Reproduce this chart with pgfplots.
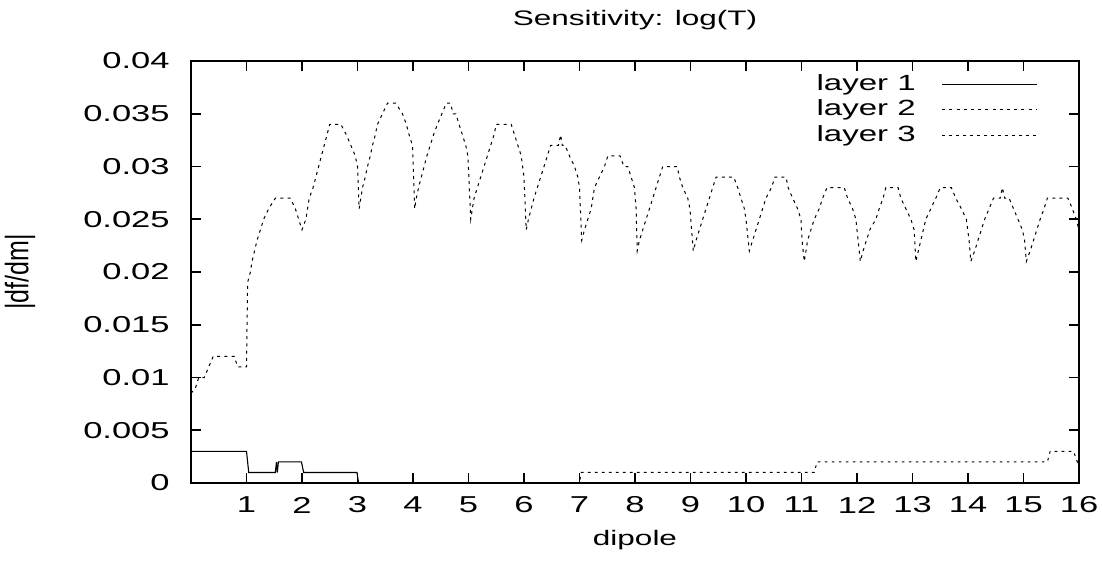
\documentclass[border=0pt]{standalone}
\usepackage{pgfplots}
\pgfplotsset{compat=1.18}
\usepackage{fontspec}
\setmainfont[FakeStretch=1.5]{Liberation Sans}
\begin{document}
\begin{tikzpicture}
\useasboundingbox (0,0) rectangle (551.5bp,281.5bp);
\begin{axis}[
  at={(95.5bp,40bp)}, anchor=south west, scale only axis,
  width=444bp, height=211bp,
  xmin=0, xmax=16, ymin=0, ymax=0.04,
  clip=false,
  xtick={1,2,3,4,5,6,7,8,9,10,11,12,13,14,15,16},
  ytick={0,0.005,0.01,0.015,0.02,0.025,0.03,0.035,0.04},
  yticklabels={0,0.005,0.01,0.015,0.02,0.025,0.03,0.035,0.04},
  scaled y ticks=false,
  tick align=inside, major tick length=5bp,
  axis line style={line width=1bp},
  every tick/.style={black, line width=0.8bp},
  /pgf/number format/assume math mode=true,
  tick label style={font=\fontsize{11.5bp}{13bp}\selectfont, inner sep=0pt},
  xticklabel style={anchor=center, yshift=-11bp},
  yticklabel style={anchor=east, xshift=-10.5bp},
  legend plot pos=right,
  legend image code/.code={\draw[#1] (0bp,0bp) -- (47.5bp,0bp);},
  legend style={draw=none, fill=none, at={(0.954,0.974)}, anchor=north east,
    font=\fontsize{11bp}{12bp}\selectfont, inner sep=0pt, row sep=0.8bp, column sep=12bp,
    nodes={inner sep=1bp, text height=8bp, text depth=2bp}},
  legend cell align=right,
]
\addplot[black, line width=0.55bp, solid] table {
x y
0.00 0.003
1.00 0.003
1.04 0.001
1.52 0.001
1.54 0.002
1.555 0.001
1.575 0.002
1.99 0.002
2.03 0.001
2.99 0.001
3.02 0
16 0
};
\addlegendentry{layer 1}
\addplot[black, line width=0.5bp, dash pattern=on 1.5bp off 2.1bp] table {
x y
0.00 0.0085
0.08 0.009
0.14 0.010
0.24 0.010
0.32 0.011
0.40 0.012
0.78 0.012
0.84 0.011
1.00 0.011
1.02 0.019
1.07 0.020
1.10 0.021
1.19 0.023
1.25 0.024
1.31 0.025
1.40 0.026
1.52 0.027
1.79 0.027
1.88 0.026
1.94 0.025
2.00 0.024
2.07 0.025
2.13 0.027
2.20 0.028
2.30 0.030
2.40 0.032
2.50 0.034
2.70 0.034
2.80 0.033
2.88 0.032
2.96 0.031
3.00 0.030
3.03 0.026
3.06 0.027
3.09 0.028
3.14 0.029
3.18 0.030
3.23 0.031
3.27 0.032
3.32 0.033
3.36 0.034
3.45 0.035
3.54 0.036
3.69 0.036
3.81 0.035
3.88 0.034
3.93 0.033
3.99 0.032
4.03 0.026
4.06 0.027
4.10 0.028
4.15 0.029
4.20 0.030
4.25 0.031
4.31 0.032
4.37 0.033
4.44 0.034
4.52 0.035
4.60 0.036
4.68 0.036
4.72 0.035
4.77 0.035
4.83 0.034
4.89 0.033
4.95 0.032
4.99 0.031
5.04 0.025
5.10 0.027
5.16 0.028
5.22 0.029
5.28 0.030
5.34 0.031
5.40 0.032
5.46 0.033
5.50 0.034
5.77 0.034
5.83 0.033
5.89 0.032
5.95 0.031
6.00 0.029
6.04 0.024
6.08 0.025
6.13 0.026
6.18 0.027
6.24 0.028
6.30 0.029
6.36 0.030
6.42 0.031
6.48 0.032
6.62 0.032
6.66 0.033
6.69 0.032
6.74 0.032
6.82 0.031
6.91 0.030
6.97 0.029
7.00 0.028
7.04 0.023
7.09 0.024
7.15 0.025
7.21 0.026
7.27 0.028
7.36 0.029
7.45 0.030
7.51 0.031
7.73 0.031
7.80 0.030
7.87 0.030
7.93 0.029
7.99 0.028
8.02 0.026
8.04 0.022
8.08 0.023
8.14 0.024
8.20 0.025
8.26 0.026
8.32 0.027
8.38 0.028
8.44 0.029
8.50 0.030
8.76 0.030
8.80 0.029
8.86 0.028
8.95 0.027
8.99 0.026
9.02 0.024
9.05 0.022
9.10 0.023
9.16 0.024
9.22 0.025
9.28 0.026
9.34 0.027
9.40 0.028
9.46 0.029
9.78 0.029
9.85 0.028
9.91 0.027
9.97 0.026
10.00 0.025
10.06 0.022
10.12 0.023
10.18 0.024
10.24 0.025
10.30 0.026
10.36 0.027
10.46 0.028
10.52 0.029
10.72 0.029
10.76 0.028
10.84 0.027
10.93 0.026
10.99 0.025
11.01 0.023
11.05 0.021
11.11 0.023
11.17 0.024
11.23 0.025
11.32 0.026
11.38 0.027
11.46 0.028
11.77 0.028
11.83 0.027
11.92 0.026
11.98 0.025
12.02 0.023
12.06 0.021
12.11 0.022
12.17 0.023
12.23 0.024
12.34 0.025
12.40 0.026
12.47 0.027
12.52 0.028
12.74 0.028
12.79 0.027
12.88 0.026
12.97 0.025
13.03 0.024
13.06 0.021
13.15 0.023
13.24 0.025
13.33 0.026
13.42 0.027
13.50 0.028
13.70 0.028
13.78 0.027
13.88 0.026
13.97 0.025
14.02 0.023
14.05 0.021
14.12 0.022
14.18 0.023
14.24 0.024
14.30 0.025
14.38 0.026
14.46 0.027
14.58 0.027
14.62 0.028
14.66 0.027
14.74 0.027
14.82 0.026
14.90 0.025
14.98 0.024
15.02 0.023
15.05 0.021
15.12 0.022
15.18 0.023
15.24 0.024
15.30 0.025
15.37 0.026
15.43 0.027
15.80 0.027
15.88 0.026
15.95 0.025
16.00 0.024
};
\addlegendentry{layer 2}
\addplot[black, line width=0.5bp, dash pattern=on 1.3bp off 2.2bp] table {
x y
0.00 0
7.00 0
7.03 0.001
11.23 0.001
11.28 0.002
15.43 0.002
15.48 0.003
15.90 0.003
15.97 0.002
16.00 0.0025
};
\addlegendentry{layer 3}
\node[font=\fontsize{10.5bp}{12bp}\selectfont, anchor=center, inner sep=0pt] at (rel axis cs:0.5,1.097) {Sensitivity: log(T)};
\node[font=\fontsize{10.5bp}{12bp}\selectfont, anchor=center, inner sep=0pt] at (rel axis cs:0.5,-0.135) {dipole};
\node[font=\fontsize{12.5bp}{14bp}\selectfont, anchor=center, inner sep=0pt, rotate=90] at (rel axis cs:-0.1926,0.5) {\scalebox{0.6667}[1.3]{|df/dm|}};
\end{axis}
\end{tikzpicture}
\end{document}
